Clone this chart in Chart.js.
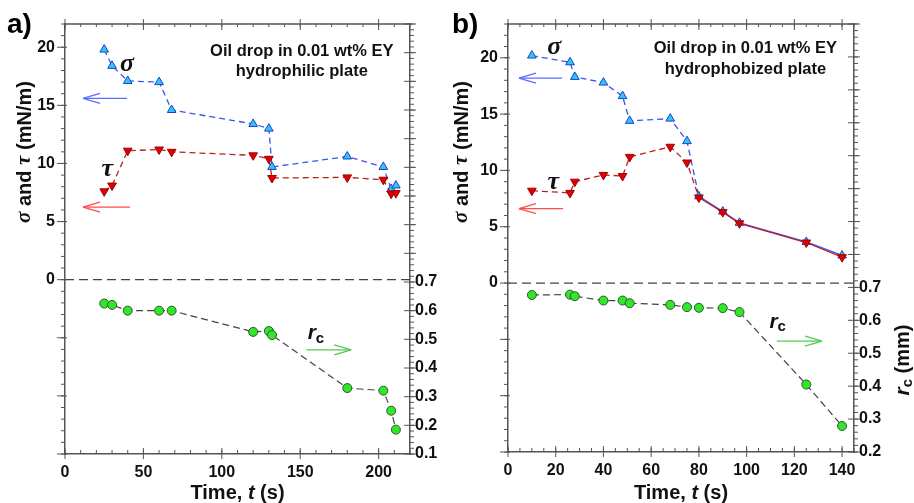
<!DOCTYPE html>
<html>
<head>
<meta charset="utf-8">
<script src="https://cdn.jsdelivr.net/npm/chart.js@4"></script>
<style>
  body { margin: 0; background: #fff; width: 914px; height: 503px; overflow: hidden; position: relative; }
  canvas { position: absolute; top: 0; }
  #chartA { left: 0; }
  #chartB { left: 450px; }
</style>
</head>
<body>
<canvas id="chartA" width="450" height="503"></canvas>
<canvas id="chartB" width="464" height="503"></canvas>
<script>
// a) hydrophilic plate
const timeA  = [25, 30, 40, 60, 68, 120, 130, 132, 180, 203, 208, 211];
const sigmaA = [19.8, 18.4, 17.1, 17.0, 14.6, 13.4, 13.0, 9.7, 10.6, 9.7, 7.8, 8.1];
const tauA   = [7.6, 8.1, 11.1, 11.2, 11.0, 10.7, 10.4, 8.75, 8.8, 8.6, 7.4, 7.45];
const rcA    = [0.625, 0.62, 0.60, 0.60, 0.60, 0.526, 0.529, 0.515, 0.33, 0.321, 0.251, 0.185];

// b) hydrophobized plate
const timeB  = [10, 26, 28, 40, 48, 51, 68, 75, 80, 90, 97, 125, 140];
const sigmaB = [20.2, 19.6, 18.3, 17.8, 16.6, 14.4, 14.6, 12.6, 7.7, 6.35, 5.35, 3.65, 2.45];
const tauB   = [8.2, 8.0, 9.0, 9.6, 9.5, 11.2, 12.1, 10.7, 7.6, 6.3, 5.3, 3.6, 2.3];
const rcB    = [0.677, 0.678, 0.673, 0.66, 0.66, 0.652, 0.647, 0.64, 0.638, 0.637, 0.625, 0.405, 0.279];

const SANS = '"Liberation Sans", Arial, sans-serif';
const SERIF = '"Liberation Serif", "Times New Roman", serif';
const AXIS = '#555';

function pts(xs, ys) {
    return xs.map((x, i) => ({x: x, y: ys[i]}));
}

function each(scale, step, from, to, cb) {
    let n = Math.floor((to - from) / step + 1e-6);
    for (let i = 0; i <= n; i++) cb(scale.getPixelForValue(from + i * step));
}

function rich(c, parts, x, y, rot) {
    c.save();
    c.translate(x, y);
    if (rot) c.rotate(-Math.PI / 2);
    c.textBaseline = 'middle';
    c.textAlign = 'left';
    c.fillStyle = '#111';
    let w = 0;
    parts.forEach(p => { c.font = p.f; w += c.measureText(p.t).width; });
    let cx = -w / 2;
    parts.forEach(p => {
        c.font = p.f;
        c.fillText(p.t, cx, p.dy || 0);
        cx += c.measureText(p.t).width;
    });
    c.restore();
}

const deco = {
    id: 'deco',
    beforeDatasetsDraw(chart, args, o) {
        // dashed zero line of the left axis
        let c = chart.ctx, a = chart.chartArea;
        let y0 = chart.scales.y.getPixelForValue(0);
        c.save();
        c.strokeStyle = '#444';
        c.lineWidth = 1.2;
        c.setLineDash([9, 5]);
        c.beginPath(); c.moveTo(a.left, y0); c.lineTo(a.right, y0); c.stroke();
        c.restore();
    },
    afterDraw(chart, args, o) {
        let c = chart.ctx, a = chart.chartArea, s = chart.scales;
        const line = (x1, y1, x2, y2) => { c.beginPath(); c.moveTo(x1, y1); c.lineTo(x2, y2); c.stroke(); };

        c.save();
        c.strokeStyle = AXIS;
        c.lineWidth = 1.5;
        line(a.left, a.top, a.right, a.top);
        c.lineWidth = 1;
        each(s.x, o.xMinor, 0, o.xMax, p => { line(p, a.bottom, p, a.bottom - 4); line(p, a.top, p, a.top + 3); });
        each(s.x, o.xMajor, 0, o.xMax, p => { line(p, a.bottom - 6, p, a.bottom + 5); line(p, a.top - 5, p, a.top + 6); });
        each(s.y, 1, o.yMin, o.yMax, p => line(a.left - 4, p, a.left, p));
        each(s.y, 5, o.yMin, o.yMax, p => line(a.left - 8, p, a.left + 2, p));
        each(s.y2, 0.02, o.rMin, o.rMax, p => line(a.right, p, a.right + 4, p));
        each(s.y2, 0.1, o.rMin, o.rMax, p => line(a.right - 6, p, a.right + 6, p));
        c.restore();

        // arrows pointing to the axis of each curve
        o.arrows.forEach(ar => {
            let sc = s[ar.axis];
            let x1 = s.x.getPixelForValue(ar.from), x2 = s.x.getPixelForValue(ar.to);
            let y = sc.getPixelForValue(ar.v);
            let d = Math.sign(x2 - x1);
            c.save();
            c.strokeStyle = ar.color;
            c.lineWidth = 1.3;
            line(x1, y, x2, y);
            line(x2, y, x2 - d * 17, y - 5);
            line(x2, y, x2 - d * 17, y + 5);
            c.restore();
        });

        // curve labels
        o.labels.forEach(l => {
            let x = s.x.getPixelForValue(l.t), y = s[l.axis].getPixelForValue(l.v);
            rich(c, l.parts, x, y, false);
        });

        // condition text
        let cx = s.x.getPixelForValue(o.note.t);
        rich(c, [{t: 'Oil drop in 0.01 wt% EY', f: 'bold 16.5px ' + SANS}], cx, s.y.getPixelForValue(o.note.v1));
        rich(c, [{t: o.note.plate, f: 'bold 16.5px ' + SANS}], cx, s.y.getPixelForValue(o.note.v2));

        // panel letter
        c.save();
        c.font = 'bold 28px ' + SANS;
        c.fillStyle = '#000';
        c.textBaseline = 'alphabetic';
        c.fillText(o.letter, o.letterX, 33);
        c.restore();

        // axis titles
        rich(c, [
            {t: 'σ', f: 'italic bold 21px ' + SERIF},
            {t: ' and ', f: 'bold 20px ' + SANS},
            {t: 'τ', f: 'italic bold 21px ' + SERIF},
            {t: ' (mN/m)', f: 'bold 20px ' + SANS}
        ], o.yTitleX, 152, true);
        rich(c, [
            {t: 'Time, ', f: 'bold 20px ' + SANS},
            {t: 't', f: 'italic bold 20px ' + SANS},
            {t: ' (s)', f: 'bold 20px ' + SANS}
        ], (a.left + a.right) / 2, 493, false);
        if (o.rTitle) {
            rich(c, [
                {t: 'r', f: 'italic bold 21px ' + SANS},
                {t: 'c', f: 'bold 15px ' + SANS, dy: 5},
                {t: ' (mm)', f: 'bold 20px ' + SANS}
            ], o.rTitleX, 360, true);
        }
    }
};

function makePanel(id, p) {
    const dash = [6, 4];
    const seg = () => ({ borderDash: ctx => ctx.p0.parsed.x >= p.solidFrom ? [] : dash });
    const tickFont = {family: SANS, size: 16, weight: 'bold'};
    return new Chart(document.getElementById(id), {
        type: 'line',
        data: {
            datasets: [
                {
                    label: 'tau', data: pts(p.time, p.tau), yAxisID: 'y', order: 0,
                    borderColor: '#b52222', borderWidth: 1.3, borderDash: dash, segment: seg(),
                    pointStyle: 'triangle', rotation: 180, pointRadius: 5,
                    pointBackgroundColor: '#e00000', pointBorderColor: '#a00000', pointBorderWidth: 1
                },
                {
                    label: 'sigma', data: pts(p.time, p.sigma), yAxisID: 'y', order: 1,
                    borderColor: '#3a55ee', borderWidth: 1.3, borderDash: dash, segment: seg(),
                    pointStyle: 'triangle', pointRadius: 5,
                    pointBackgroundColor: '#2ec6f6', pointBorderColor: '#2040c8', pointBorderWidth: 1
                },
                {
                    label: 'rc', data: pts(p.time, p.rc), yAxisID: 'y2', order: 2,
                    borderColor: '#444', borderWidth: 1.2, borderDash: [7, 4],
                    pointStyle: 'circle', pointRadius: 4.5,
                    pointBackgroundColor: '#33e62a', pointBorderColor: '#2a5a2a', pointBorderWidth: 1
                }
            ]
        },
        options: {
            responsive: false,
            animation: false,
            devicePixelRatio: 1,
            layout: {padding: {top: 24, left: 0, right: 0, bottom: 0}},
            plugins: {
                legend: {display: false},
                tooltip: {enabled: false},
                deco: p.deco
            },
            scales: {
                x: {
                    type: 'linear', min: 0, max: p.deco.xMax,
                    grid: {display: false, drawTicks: false},
                    border: {color: AXIS, width: 1.5},
                    ticks: {stepSize: p.deco.xMajor, includeBounds: false, autoSkip: false, maxRotation: 0,
                            padding: 9, color: '#111', font: tickFont},
                    afterFit: sc => { sc.height = p.xH; }
                },
                y: {
                    position: 'left', min: p.deco.yMin, max: p.deco.yMax,
                    grid: {display: false, drawTicks: false},
                    border: {color: AXIS, width: 1.5},
                    ticks: {stepSize: 5, includeBounds: false, padding: 10, color: '#111', font: tickFont,
                            callback: v => v >= 0 ? v : ''},
                    afterFit: sc => { sc.width = p.yW; }
                },
                y2: {
                    position: 'right', min: p.deco.rMin, max: p.deco.rMax,
                    grid: {display: false, drawTicks: false},
                    border: {color: AXIS, width: 1.5},
                    ticks: {stepSize: 0.1, includeBounds: false, padding: 5, color: '#111', font: tickFont,
                            callback: v => v <= 0.701 ? v.toFixed(1) : ''},
                    afterFit: sc => { sc.width = p.y2W; }
                }
            }
        },
        plugins: [deco]
    });
}

makePanel('chartA', {
    time: timeA, sigma: sigmaA, tau: tauA, rc: rcA,
    solidFrom: Infinity, yW: 65, y2W: 40, xH: 49,
    deco: {
        xMax: 220, xMajor: 50, xMinor: 10, yMin: -15, yMax: 22, rMin: 0.1, rMax: 1.6,
        letter: 'a)', letterX: 7, yTitleX: 25, rTitle: false,
        note: {t: 151, v1: 19.6, v2: 17.9, plate: 'hydrophilic plate'},
        arrows: [
            {axis: 'y', from: 39.5, to: 11.5, v: 15.6, color: '#5b6cff'},
            {axis: 'y', from: 41.5, to: 11.5, v: 6.25, color: '#ff4c4c'},
            {axis: 'y2', from: 154, to: 182.5, v: 0.463, color: '#55c855'}
        ],
        labels: [
            {t: 39.5, v: 18.5, axis: 'y', parts: [{t: 'σ', f: 'italic bold 26px ' + SERIF}]},
            {t: 27, v: 9.5, axis: 'y', parts: [{t: 'τ', f: 'italic bold 26px ' + SERIF}]},
            {t: 160, v: 0.52, axis: 'y2', parts: [{t: 'r', f: 'italic bold 21px ' + SANS}, {t: 'c', f: 'bold 15px ' + SANS, dy: 5}]}
        ]
    }
});

makePanel('chartB', {
    time: timeB, sigma: sigmaB, tau: tauB, rc: rcB,
    solidFrom: 80, yW: 58, y2W: 60, xH: 51,
    deco: {
        xMax: 145, xMajor: 20, xMinor: 5, yMin: -15, yMax: 23, rMin: 0.2, rMax: 1.5,
        letter: 'b)', letterX: 2, yTitleX: 12, rTitle: true, rTitleX: 453,
        note: {t: 99.5, v1: 20.8, v2: 19.0, plate: 'hydrophobized plate'},
        arrows: [
            {axis: 'y', from: 22.7, to: 4.6, v: 18.2, color: '#5b6cff'},
            {axis: 'y', from: 23.1, to: 4.6, v: 6.6, color: '#ff4c4c'},
            {axis: 'y2', from: 112.7, to: 131.6, v: 0.537, color: '#55c855'}
        ],
        labels: [
            {t: 19.4, v: 20.9, axis: 'y', parts: [{t: 'σ', f: 'italic bold 26px ' + SERIF}]},
            {t: 19, v: 8.95, axis: 'y', parts: [{t: 'τ', f: 'italic bold 26px ' + SERIF}]},
            {t: 113, v: 0.595, axis: 'y2', parts: [{t: 'r', f: 'italic bold 21px ' + SANS}, {t: 'c', f: 'bold 15px ' + SANS, dy: 5}]}
        ]
    }
});
</script>
</body>
</html>
